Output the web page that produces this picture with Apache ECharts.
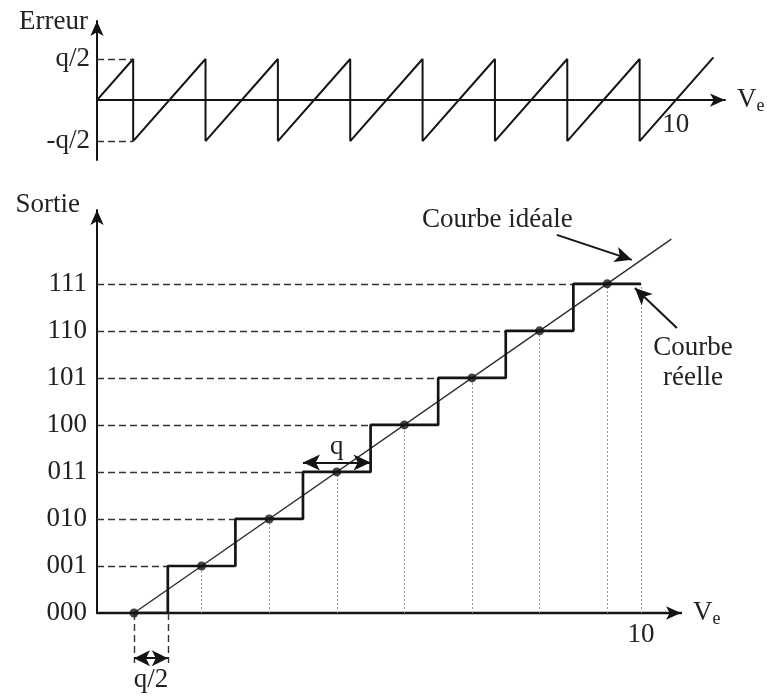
<!DOCTYPE html>
<html>
<head>
<meta charset="utf-8">
<script src="https://cdn.jsdelivr.net/npm/echarts@6/dist/echarts.min.js"></script>
<style>
  html, body { margin: 0; padding: 0; background: #fff; }
  #chart { width: 767px; height: 699px; }
</style>
</head>
<body>
<div id="chart"></div>
<script>
// ---- Quantization error (top): input voltage Ve (V) vs error (units of q)
const errVe  = [0, 0.625, 0.625, 1.875, 1.875, 3.125, 3.125, 4.375, 4.375,
                5.625, 5.625, 6.875, 6.875, 8.125, 8.125, 9.375, 9.375, 10.65];
const errVal = [0, 0.5, -0.5, 0.5, -0.5, 0.5, -0.5, 0.5, -0.5,
                0.5, -0.5, 0.5, -0.5, 0.5, -0.5, 0.5, -0.5, 0.52];
const errTickValues = [-0.5, 0.5];
const errTickLabels = ['-q/2', 'q/2'];
const errFirstEdge = 0.625;          // first transition (q/2)

// ---- Converter transfer curve (bottom)
const codeLabels = ['000', '001', '010', '011', '100', '101', '110', '111'];
const codeLevels = [0, 1, 2, 3, 4, 5, 6, 7];
const idealVe    = [0, 1.333, 2.667, 4, 5.333, 6.667, 8, 9.333];  // ideal points
const stepVe     = [0.667, 2, 3.333, 4.667, 6, 7.333, 8.667];     // code transitions
const fullScale  = 10;
const idealEnd   = [10.6, 7.95];

// axis extents
const topX = { min: 0, max: 10.85 };
const topY = { min: -0.73, max: 0.963 };
const botX = { min: -0.73, max: 10.79 };
const botY = { min: 0, max: 8.57 };

const FONT = 'Liberation Serif';
const INK = '#141414';
const TXT = '#222';
const FS = 27;

// top grid geometry: the Ve axis sits on the zero-error line
const topGrid = { left: 97, right: 42, top: 21, bottom: 539 };
const topGridH = 699 - topGrid.top - topGrid.bottom;
const zeroFromBottom = topGridH * (0 - topY.min) / (topY.max - topY.min);

// staircase built from the transition table
const realCurve = [[idealVe[0], codeLevels[0]]];
stepVe.forEach((v, i) => {
  realCurve.push([v, codeLevels[i]]);
  realCurve.push([v, codeLevels[i + 1]]);
});
realCurve.push([fullScale, codeLevels[codeLevels.length - 1]]);

const dashStyle = { type: [7, 4], color: '#333', width: 1.4 };
const dotStyle  = { type: [2, 2], color: '#9a9a9a', width: 1 };

const levelGuides = stepVe.map((v, i) => [
  { coord: [botX.min, codeLevels[i + 1]], lineStyle: dashStyle },
  { coord: [v, codeLevels[i + 1]] }
]);
const dropGuides = idealVe.slice(1).map((v, i) => [
  { coord: [v, 0], lineStyle: dotStyle },
  { coord: [v, codeLevels[i + 1]] }
]);
dropGuides.push([
  { coord: [fullScale, 0], lineStyle: dotStyle },
  { coord: [fullScale, codeLevels[codeLevels.length - 1]] }
]);

const veName = {
  name: '{v|V}{e|e}',
  nameLocation: 'end',
  nameTextStyle: {
    verticalAlign: 'middle',
    rich: {
      v: { fontFamily: FONT, fontSize: FS, color: TXT },
      e: { fontFamily: FONT, fontSize: 18, color: TXT, padding: [12, 0, 0, 0] }
    }
  }
};

const arrowLine = { color: INK, width: 2 };

const option = {
  animation: false,
  grid: [
    topGrid,
    { left: 97, right: 86, top: 210, bottom: 86 },
    { left: 97, right: 86, top: 613, height: 52 }
  ],
  xAxis: [
    Object.assign({
      gridIndex: 0, type: 'value', min: topX.min, max: topX.max,
      position: 'bottom', offset: -zeroFromBottom,
      axisLine: { onZero: false, lineStyle: arrowLine, symbol: ['none', 'arrow'], symbolSize: [10, 15] },
      axisTick: { show: false }, splitLine: { show: false },
      axisLabel: { customValues: [fullScale], formatter: v => String(v),
                   fontFamily: FONT, fontSize: FS, color: TXT, margin: 11 },
      nameGap: 12
    }, veName),
    Object.assign({
      gridIndex: 1, type: 'value', min: botX.min, max: botX.max,
      axisLine: { onZero: false, lineStyle: { color: INK, width: 2.4 }, symbol: ['none', 'arrow'], symbolSize: [10, 15] },
      axisTick: { show: false }, splitLine: { show: false },
      axisLabel: { customValues: [fullScale], formatter: v => String(v),
                   fontFamily: FONT, fontSize: FS, color: TXT, margin: 8 },
      nameGap: 12
    }, veName),
    { gridIndex: 2, type: 'value', min: botX.min, max: botX.max, show: false }
  ],
  yAxis: [
    {
      gridIndex: 0, type: 'value', min: topY.min, max: topY.max,
      axisLine: { onZero: false, lineStyle: arrowLine, symbol: ['none', 'arrow'], symbolSize: [10, 15] },
      axisTick: { show: false }, splitLine: { show: false },
      axisLabel: { customValues: errTickValues,
                   formatter: v => errTickLabels[errTickValues.indexOf(v)],
                   fontFamily: FONT, fontSize: FS, color: TXT, margin: 7 },
      name: 'Erreur', nameLocation: 'end', nameGap: -1,
      nameTextStyle: { align: 'right', verticalAlign: 'middle', padding: [0, 9, 0, 0],
                       fontFamily: FONT, fontSize: FS, color: TXT }
    },
    {
      gridIndex: 1, type: 'value', min: botY.min, max: botY.max,
      axisLine: { onZero: false, lineStyle: arrowLine, symbol: ['none', 'arrow'], symbolSize: [10, 15] },
      axisTick: { show: false }, splitLine: { show: false },
      axisLabel: { customValues: codeLevels, formatter: v => codeLabels[v],
                   fontFamily: FONT, fontSize: FS, color: TXT, margin: 10 },
      name: 'Sortie', nameLocation: 'end', nameGap: 5,
      nameTextStyle: { align: 'right', verticalAlign: 'middle', padding: [0, 17, 0, 0],
                       fontFamily: FONT, fontSize: FS, color: TXT }
    },
    { gridIndex: 2, type: 'value', min: -1, max: 0, show: false }
  ],
  series: [
    {
      name: 'Erreur', type: 'line', xAxisIndex: 0, yAxisIndex: 0,
      data: errVe.map((v, i) => [v, errVal[i]]),
      showSymbol: false, lineStyle: { color: INK, width: 2 }, z: 3,
      markLine: {
        silent: true, symbol: 'none', label: { show: false },
        data: errTickValues.map(t => [
          { coord: [topX.min, t], lineStyle: dashStyle },
          { coord: [errFirstEdge, t] }
        ])
      }
    },
    {
      name: 'Courbe réelle', type: 'line', xAxisIndex: 1, yAxisIndex: 1,
      data: realCurve, showSymbol: false,
      lineStyle: { color: INK, width: 2.7 }, z: 4,
      markLine: {
        silent: true, symbol: 'none', label: { show: false }, z: 1,
        data: levelGuides.concat(dropGuides)
      }
    },
    {
      name: 'Courbe idéale', type: 'line', xAxisIndex: 1, yAxisIndex: 1,
      data: [[idealVe[0], codeLevels[0]], idealEnd], showSymbol: false,
      lineStyle: { color: '#2a2a2a', width: 1.4 }, z: 3,
      markLine: {
        silent: true, symbol: ['none', 'arrow'], symbolSize: [12, 17],
        label: { show: false },
        lineStyle: { color: INK, width: 2, type: 'solid' },
        data: [
          [{ coord: [8.34, 8.04] }, { coord: [9.82, 7.51] }],
          [{ coord: [10.71, 6.06] }, { coord: [9.88, 6.91] }]
        ]
      }
    },
    {
      name: 'points', type: 'scatter', xAxisIndex: 1, yAxisIndex: 1,
      data: idealVe.map((v, i) => [v, codeLevels[i]]),
      symbolSize: 9, itemStyle: { color: INK }, z: 6,
      markLine: {
        silent: true, symbol: ['arrow', 'arrow'], symbolSize: [12, 17],
        lineStyle: { color: INK, width: 2, type: 'solid' },
        label: { show: true, position: 'middle', formatter: 'q', distance: 2,
                 fontFamily: FONT, fontSize: FS, color: TXT },
        data: [[{ coord: [stepVe[2], 3.2] }, { coord: [stepVe[3], 3.2] }]]
      }
    },
    {
      name: 'q/2', type: 'line', xAxisIndex: 2, yAxisIndex: 2, data: [],
      markLine: {
        silent: true, symbol: 'none', label: { show: false },
        data: [
          [{ coord: [idealVe[0], 0], lineStyle: dashStyle }, { coord: [idealVe[0], -0.96] }],
          [{ coord: [stepVe[0], 0], lineStyle: dashStyle }, { coord: [stepVe[0], -0.96] }],
          [{ coord: [idealVe[0], -0.87], symbol: 'arrow', symbolSize: [12, 16],
             lineStyle: { color: INK, width: 2.2, type: 'solid' },
             label: { show: true, position: 'insideMiddleBottom', formatter: 'q/2', distance: 8,
                      fontFamily: FONT, fontSize: FS, color: TXT } },
           { coord: [stepVe[0], -0.87], symbol: 'arrow', symbolSize: [12, 16] }]
        ]
      }
    }
  ],
  graphic: [
    { type: 'text', left: 422, top: 206,
      style: { text: 'Courbe idéale', font: FS + 'px "' + FONT + '"', fill: TXT } },
    { type: 'text', x: 693, y: 363,
      style: { text: 'Courbe\nréelle', font: FS + 'px "' + FONT + '"', fill: TXT,
               align: 'center', verticalAlign: 'middle', lineHeight: 30 } }
  ]
};

const chart = echarts.init(document.getElementById('chart'), null, { renderer: 'canvas' });
chart.setOption(option);
</script>
</body>
</html>
